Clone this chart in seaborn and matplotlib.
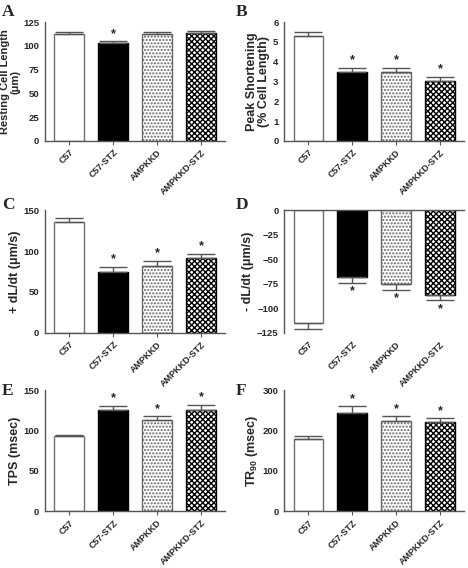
import matplotlib
matplotlib.use("Agg")
import matplotlib.pyplot as plt
import seaborn as sns
import pandas as pd

sns.set_theme(style="white")
plt.rcParams["font.family"] = ["Liberation Sans", "DejaVu Sans"]
plt.rcParams["font.weight"] = "bold"
plt.rcParams["mathtext.fontset"] = "custom"
plt.rcParams["mathtext.rm"] = "Liberation Sans:bold"
plt.rcParams["mathtext.bf"] = "Liberation Sans:bold"
plt.rcParams["hatch.linewidth"] = 1.0

groups = ["C57", "C57-STZ", "AMPKKD", "AMPKKD-STZ"]

# mean and SEM for each panel
rest_len = [113, 103, 113, 113.5]
rest_len_err = [2, 2, 2, 2]
peak_short = [5.3, 3.47, 3.47, 3.05]
peak_short_err = [0.22, 0.22, 0.22, 0.2]
plus_dldt = [135, 75, 82, 91]
plus_dldt_err = [6, 6, 6, 6]
minus_dldt = [-115, -68, -75, -86]
minus_dldt_err = [6, 6, 6, 6]
tps = [93, 125, 113, 126]
tps_err = [2, 6, 5, 6]
tr90 = [179, 243, 223, 220]
tr90_err = [8, 18, 12, 10]

signif = [False, True, True, True]
signif_a = [False, True, False, False]

panels = [
    ("A", rest_len, rest_len_err, signif_a, "Resting Cell Length\n(μm)", 8, (0, 125), [0, 25, 50, 75, 100, 125]),
    ("B", peak_short, peak_short_err, signif, "Peak Shortening\n(% Cell Length)", 9, (0, 6), [0, 1, 2, 3, 4, 5, 6]),
    ("C", plus_dldt, plus_dldt_err, signif, "+ dL/dt (μm/s)", 9, (0, 150), [0, 50, 100, 150]),
    ("D", minus_dldt, minus_dldt_err, signif, "- dL/dt (μm/s)", 9, (-125, 0), [0, -25, -50, -75, -100, -125]),
    ("E", tps, tps_err, signif, "TPS (msec)", 9, (0, 150), [0, 50, 100, 150]),
    ("F", tr90, tr90_err, signif, "TR$_{90}$ (msec)", 9, (0, 300), [0, 100, 200, 300]),
]

faces = ["white", "black", "white", "white"]
edges = ["#707070", "black", "#666666", "black"]
hatches = ["", "", ".....", "xxxxxx"]
axis_gray = "#555555"

fig = plt.figure(figsize=(4.68, 5.68), dpi=100)
lefts = [0.096, 0.607]
rows = [(0.752, 0.209), (0.414, 0.216), (0.100, 0.213)]
letter_tops = [4, 197, 383]

for i, (letter, vals, errs, stars, ylabel, lsize, ylim, yticks) in enumerate(panels):
    bottom, height = rows[i // 2]
    ax = fig.add_axes([lefts[i % 2], bottom, 0.385, height])
    df = pd.DataFrame({"group": groups, "value": vals})
    sns.barplot(data=df, x="group", y="value", hue="group", palette=faces,
                width=0.67, errorbar=None, legend=False, ax=ax)
    for p, ec, h in zip(ax.patches, edges, hatches):
        p.set_edgecolor(ec)
        p.set_hatch(h)
        p.set_linewidth(1.0)

    xs = list(range(len(groups)))
    neg = ylim[1] <= 0
    yerr = [errs, [0] * 4] if neg else [[0] * 4, errs]
    ax.errorbar(xs, vals, yerr=yerr, fmt="none", ecolor=axis_gray,
                elinewidth=1.0, capsize=10, capthick=1.0)
    span = ylim[1] - ylim[0]
    for x, v, e, s in zip(xs, vals, errs, stars):
        if not s:
            continue
        if neg:
            ax.text(x, v - e - 0.02 * span, "*", ha="center", va="top", fontsize=9)
        else:
            ax.text(x, v + e + 0.01 * span, "*", ha="center", va="bottom", fontsize=9)

    ax.set_xlim(-0.55, 3.55)
    ax.set_ylim(*ylim)
    ax.set_yticks(yticks)
    ax.set_xlabel("")
    ax.set_ylabel(ylabel, fontsize=lsize, fontweight="bold", labelpad=2, linespacing=1.0)
    ax.set_xticks(xs)
    ax.set_xticklabels(groups, rotation=45, ha="right", rotation_mode="anchor",
                       fontsize=6.5, fontweight="bold")
    ax.tick_params(axis="y", labelsize=6.8, length=3, width=0.8, color=axis_gray, pad=1)
    ax.tick_params(axis="x", length=3, width=0.8, color=axis_gray, pad=2,
                   bottom=not neg)
    for lab in ax.get_yticklabels():
        lab.set_fontweight("bold")

    ax.spines["right"].set_visible(False)
    if neg:
        ax.spines["bottom"].set_visible(False)
        ax.spines["top"].set_color(axis_gray)
        ax.spines["top"].set_linewidth(1.0)
    else:
        ax.spines["top"].set_visible(False)
        ax.spines["bottom"].set_color(axis_gray)
        ax.spines["bottom"].set_linewidth(1.0)
    ax.spines["left"].set_color(axis_gray)
    ax.spines["left"].set_linewidth(1.0)

    fx = 0.004 if i % 2 == 0 else 0.504
    fy = 1 - letter_tops[i // 2] / 568
    fig.text(fx, fy, letter, fontsize=12.5, fontweight="bold",
             family=["Liberation Serif", "DejaVu Serif"], va="top", ha="left")

fig.savefig("out.png", dpi=100)
